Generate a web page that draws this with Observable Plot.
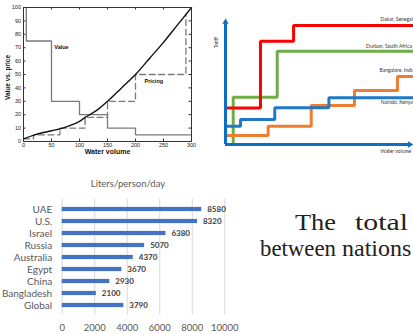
<!DOCTYPE html>
<html><head><meta charset="utf-8">
<script src="https://cdn.jsdelivr.net/npm/d3@7"></script>
<script src="https://cdn.jsdelivr.net/npm/@observablehq/plot@0.6"></script>
<style>
html,body{margin:0;padding:0;background:#fff;}
#page{position:relative;width:413px;height:334px;overflow:hidden;background:#fff;}
.abs{position:absolute;}
#title{left:0;top:178px;width:256px;text-align:center;font:9.5px Lato,'Open Sans',sans-serif;color:#595959;line-height:12px;}
</style></head><body><div id="page"></div>
<script>
// ---------- Chart A: value vs price ----------
const valueX   = [5, 5, 50, 50, 100, 100, 150, 150, 200, 200, 300];
const valueY   = [100, 75, 75, 30, 30, 20, 20, 10, 10, 5, 5];
const curveX   = [0, 20, 50, 70, 100, 110, 130, 150, 175, 200, 225, 250, 275, 300];
const curveY   = [2, 5, 8, 10, 15, 18, 23, 30, 40, 50, 62, 74, 87, 100];
const pricingX = [0, 18, 18, 65, 65, 110, 110, 150, 150, 200, 200, 290, 290];
const pricingY = [2, 2, 5, 5, 10, 10, 18, 18, 30, 30, 50, 50, 95];
const aXTicks  = [0, 50, 100, 150, 200, 250, 300];
const aYTicks  = [0, 10, 20, 30, 40, 50, 60, 70, 80, 90, 100];
const aLabelText = ["Value", "Pricing"];
const aLabelX    = [55, 216];
const aLabelY    = [70, 45];

// ---------- Chart B: tariffs ----------
const redX    = [0, 18.6, 18.6, 36.2, 36.2, 100];
const redY    = [29, 29, 82, 82, 94.4, 94.4];
const greenX  = [4.1, 4.1, 27.5, 27.5, 100];
const greenY  = [0, 37.5, 37.5, 74, 74];
const orangeX = [0, 22.7, 22.7, 45.6, 45.6, 68.6, 68.6, 91.5, 91.5, 100];
const orangeY = [7.1, 7.1, 14.5, 14.5, 31, 31, 42.9, 42.9, 54, 54];
const blueX   = [0, 8, 8, 26.2, 26.2, 55, 55, 100];
const blueY   = [14.5, 14.5, 19.8, 19.8, 29.1, 29.1, 37.1, 37.1];
const cityNames = ["Dakar, Senegal", "Durban, South Africa", "Bangalore, India", "Nairobi, Kenya"];
const cityX     = [82.4, 74.8, 81.9, 82.6];
const cityY     = [99.2, 78, 58.7, 33.3];

// ---------- Chart C: liters/person/day ----------
const countries = ["UAE", "U.S.", "Israel", "Russia", "Australia", "Egypt", "China", "Bangladesh", "Global"];
const liters    = [8580, 8320, 6380, 5070, 4370, 3670, 2930, 2100, 3790];
const cXTicks   = [0, 2000, 4000, 6000, 8000, 10000];

const page = document.getElementById("page");
const zip = (xs, ys) => xs.map((x, i) => ({x, y: ys[i]}));
function place(el, left, top) {
  const d = document.createElement("div");
  d.className = "abs"; d.style.left = left + "px"; d.style.top = top + "px";
  d.appendChild(el); page.appendChild(d);
}

// Chart A
const aInnerH = 160 - 7 - 19, aInnerW = 205 - 23 - 14;
const A = Plot.plot({
  width: 205, height: 160,
  marginLeft: 23, marginRight: 14, marginTop: 7, marginBottom: 19,
  x: {domain: [0, 300]}, y: {domain: [0, 100]},
  style: {fontFamily: "'Liberation Sans', Arial, sans-serif", background: "transparent", color: "#222", overflow: "visible"},
  marks: [
    Plot.line(zip(valueX, valueY), {x: "x", y: "y", stroke: "#7a7a7a", strokeWidth: 1.3, strokeLinejoin: "miter"}),
    Plot.line(zip(pricingX, pricingY), {x: "x", y: "y", stroke: "#7a7a7a", strokeWidth: 1.3, strokeDasharray: "6,3.5", strokeLinejoin: "miter"}),
    Plot.line(zip(curveX, curveY), {x: "x", y: "y", curve: "catmull-rom", stroke: "#111", strokeWidth: 1.4}),
    Plot.frame({stroke: "#333", strokeWidth: 1}),
    Plot.tickX(aXTicks, {x: d => d, insetTop: aInnerH - 2.5, stroke: "#333"}),
    Plot.tickX(aXTicks, {x: d => d, insetBottom: aInnerH - 2.5, stroke: "#333"}),
    Plot.tickY(aYTicks, {y: d => d, insetRight: aInnerW - 2.5, stroke: "#333"}),
    Plot.tickY(aYTicks, {y: d => d, insetLeft: aInnerW - 2.5, stroke: "#333"}),
    Plot.axisX({ticks: aXTicks, tickSize: 0, tickPadding: 1.5, fontSize: 5.5, label: null}),
    Plot.axisY({ticks: aYTicks, tickSize: 0, tickPadding: 2.5, fontSize: 5.5, label: null}),
    Plot.text(aLabelText, {x: (d, i) => aLabelX[i], y: (d, i) => aLabelY[i], text: d => d, textAnchor: "start", fontSize: 5.5, fontWeight: "bold", fill: "#111"}),
    Plot.text(["Water volume"], {frameAnchor: "bottom", text: d => d, dy: 12, fontSize: 7, fontWeight: "bold", fill: "#111"}),
    Plot.text(["Value vs. price"], {frameAnchor: "left", textAnchor: "middle", text: d => d, rotate: -90, dx: -16, dy: 3, fontSize: 6.5, fontWeight: "bold", fill: "#111"})
  ]
});
place(A, 0, 0);

// Chart B
const lineOpts = {x: "x", y: "y", strokeWidth: 3, strokeLinejoin: "miter", strokeLinecap: "butt"};
const axisBlue = "#0b6fc4";
const B = Plot.plot({
  width: 203, height: 160,
  marginLeft: 15, marginRight: 0, marginTop: 18, marginBottom: 16,
  x: {domain: [0, 100], axis: null}, y: {domain: [0, 100], axis: null},
  style: {fontFamily: "Lato, 'Open Sans', sans-serif", background: "transparent", overflow: "visible"},
  marks: [
    Plot.line(zip(greenX, greenY), {...lineOpts, stroke: "#70ad47"}),
    Plot.line(zip(orangeX, orangeY), {...lineOpts, stroke: "#ed7d31"}),
    Plot.line(zip(blueX, blueY), {...lineOpts, stroke: "#1f78c8"}),
    Plot.line(zip(redX, redY), {...lineOpts, stroke: "#ff0000"}),
    Plot.ruleX([0], {y1: 0, y2: 96, stroke: axisBlue, strokeWidth: 3}),
    Plot.ruleY([0], {x1: 0, x2: 97.5, stroke: axisBlue, strokeWidth: 3}),
    Plot.dot([0], {x: 0, y: 97.2, symbol: "triangle2", r: 3, fill: axisBlue, stroke: null}),
    Plot.dot([0], {x: 98, y: 0, symbol: "triangle2", r: 3, rotate: 90, fill: axisBlue, stroke: null}),
    Plot.text(cityNames, {x: (d, i) => cityX[i], y: (d, i) => cityY[i], text: d => d, textAnchor: "start", fontSize: 5, fill: "#333"}),
    Plot.text(["Tariff"], {frameAnchor: "top-left", textAnchor: "middle", text: d => d, rotate: -90, dx: -11, dy: 24, fontSize: 5, fill: "#333"}),
    Plot.text(["Water volume"], {frameAnchor: "bottom-right", text: d => d, textAnchor: "start", dx: -33, dy: 8, fontSize: 5, fill: "#333"})
  ]
});
place(B, 210, 0);

// Chart C
const cData = countries.map((c, i) => ({c, v: liters[i]}));
const C = Plot.plot({
  width: 250, height: 174,
  marginLeft: 61.7, marginRight: 25.7, marginTop: 38.5, marginBottom: 19.3,
  x: {domain: [0, 10000]}, y: {domain: countries, padding: 0},
  style: {fontFamily: "Lato, 'Open Sans', sans-serif", background: "transparent", overflow: "visible"},
  marks: [
    Plot.gridX(cXTicks, {stroke: "#d9d9d9", strokeOpacity: 1, strokeWidth: 1}),
    Plot.barX(cData, {x: "v", y: "c", fill: "#4472c4", insetTop: 3.9, insetBottom: 3.9}),
    Plot.text(cData, {x: "v", y: "c", text: d => String(d.v), dx: 5.5, textAnchor: "start", fontWeight: "bold", fontSize: 8, fill: "#404040"}),
    Plot.axisX({ticks: cXTicks, tickSize: 0, tickPadding: 9, fontSize: 9.5, tickFormat: d => String(d), label: null, color: "#595959"}),
    Plot.axisY({tickSize: 0, tickPadding: 10, fontSize: 10, label: null, color: "#595959"})
  ]
});
place(C, 0, 160);

const title = document.createElement("div");
title.id = "title"; title.className = "abs"; title.textContent = "Liters/person/day";
page.appendChild(title);

// Paragraph fragment (justified body text)
const ns = "http://www.w3.org/2000/svg";
const svg = document.createElementNS(ns, "svg");
svg.setAttribute("width", 413); svg.setAttribute("height", 334);
svg.style.position = "absolute"; svg.style.left = "0"; svg.style.top = "0"; svg.style.pointerEvents = "none";
const words = [["The", 295, 230, 41], ["total", 355, 230, 53], ["between", 260, 256, 76], ["nations", 342, 256, null]];
for (const [w, x, y, len] of words) {
  const t = document.createElementNS(ns, "text");
  t.setAttribute("x", x); t.setAttribute("y", y);
  t.setAttribute("font-family", "'Liberation Serif', 'Times New Roman', serif");
  t.setAttribute("font-size", 24); t.setAttribute("fill", "#222");
  if (len) { t.setAttribute("textLength", len); t.setAttribute("lengthAdjust", "spacingAndGlyphs"); }
  t.textContent = w; svg.appendChild(t);
}
page.appendChild(svg);
</script></body></html>
